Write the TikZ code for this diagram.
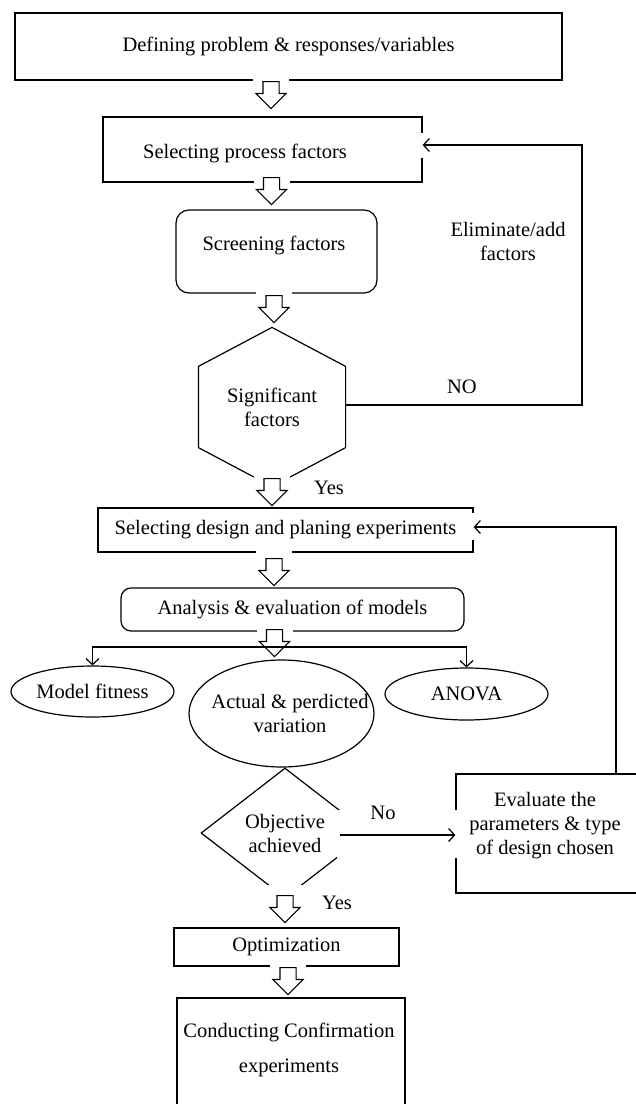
\documentclass[tikz,border=0pt]{standalone}
\usepackage{fontspec}
\setmainfont{Liberation Serif}
\usetikzlibrary{shapes.geometric,shapes.arrows,arrows.meta,positioning}
\tikzset{
    box/.style={draw, rectangle, inner sep=0pt, align=center},
    roundbox/.style={box, rounded corners=6.5pt},
    oval/.style={draw, ellipse, inner sep=0pt, align=center},
    decision/.style={draw, diamond, aspect=1.3, inner sep=0pt, align=center},
    flow/.style={-{Straight Barb[length=3pt,width=6.5pt]}},
    blockarrow/.style={
        single arrow, draw, fill=white,
        shape border rotate=270,
        minimum height=13.5pt, minimum width=14.5pt,
        inner sep=3.75pt, single arrow head extend=3.5pt
    },
    hollow/.pic={
        % white patch behind the arrow, as in the scanned chart
        \fill[white] (-18,-10) rectangle (18,6);
        \node[blockarrow, anchor=tail] (-arr) at (0,0) {};
    }
}

\begin{document}
\begin{tikzpicture}[x=0.5pt, y=-0.5pt, line width=0.6pt,
    every node/.style={font=\fontsize{10.25}{12}\selectfont}]
    \useasboundingbox (0,0) rectangle (636,1104);
    \clip (0,0) rectangle (636,1104);

    % main stages
    \node[box, minimum width=273.5pt, minimum height=33.5pt] (defprob) at (288.5,46.5) {Defining problem \& responses/variables};
    \node[box, minimum width=159.5pt, minimum height=32.5pt] (selfac) at (262.5,149.5) {};
    \node[anchor=center] (selfactxt) at (245,153) {Selecting process factors};
    \node[roundbox, minimum width=100.5pt, minimum height=41.5pt] (screen) at (276.5,251.5) {};
    \node (screentxt) at (274,245) {Screening factors};

    % hexagon: text node, outline from its anchors
    \node[minimum width=73pt, minimum height=79pt, inner sep=0pt, align=center] (sigfac) at (272,407) {Significant\\factors};
    \draw (sigfac.north) -- ([yshift=-19.5pt]sigfac.north east) -- ([yshift=19.5pt]sigfac.south east)
        -- (sigfac.south) -- ([yshift=19.5pt]sigfac.south west) -- ([yshift=-19.5pt]sigfac.north west) -- cycle;

    \node[box, minimum width=187.5pt, minimum height=22pt] (seldes) at (285.5,530) {Selecting design and planing experiments};
    \node[box, rounded corners=5pt, minimum width=171.5pt, minimum height=21.5pt] (analys) at (292.5,609.5) {Analysis \& evaluation of models};

    % model checks
    \node[oval, minimum width=81.5pt, minimum height=25.5pt] (modfit) at (92.5,691.5) {Model fitness};
    \node[oval, minimum width=92.5pt, minimum height=53.5pt,
        label={[align=center, xshift=4.25pt]center:Actual \& perdicted\\variation}] (actpred) at (281.5,713.5) {};
    \node[oval, minimum width=81.5pt, minimum height=26pt] (anova) at (466.5,694) {ANOVA};

    \node[decision, minimum width=84pt, minimum height=65pt] (objach) at (285,833) {Objective\\achieved};
    \node[box, minimum width=110pt, minimum height=59.5pt] (evalpar) at (566,833.5) {};
    \node[align=center] (evaltxt) at (545,826) {Evaluate the\\parameters \& type\\of design chosen};

    \node[box, minimum width=112.5pt, minimum height=19pt] (optim) at (286.5,947) {Optimization};
    \node[box, minimum width=114pt, minimum height=56pt] (confirm) at (291,1054) {};
    \node[align=center] (confirmtxt) at (289,1050) {Conducting Confirmation\\[5.5pt]experiments};

    % hollow block arrows between the stages
    \pic (a1) at (271,81) {hollow};
    \pic (a2) at (271.5,177) {hollow};
    \pic (a3) at (274,295) {hollow};
    \pic (a4) at (272,478) {hollow};
    \pic (a5) at (274,558) {hollow};
    \pic (a6) at (274.5,629) {hollow};
    \pic (a7) at (285,895) {hollow};
    \pic (a8) at (288,967) {hollow};

    % branch to the three checks
    \coordinate (split) at (275,647);
    \draw[flow] (split) -| (modfit.north);
    \draw[flow] (split) -| (anova.north);

    % loop back: eliminate/add factors
    \coordinate (nocorner) at (582,405);
    \fill[white] ([xshift=-1.5pt,yshift=8.25pt]selfac.east) rectangle ([xshift=1.5pt,yshift=-4.25pt]selfac.east);
    \draw[flow] (sigfac.east |- nocorner) -- (nocorner) |- ([yshift=2.25pt]selfac.east);
    \node[align=center] (elimadd) at (508,241.5) {Eliminate/add\\factors};
    \node (nolbl) at (462,387) {NO};
    \node (yeslbl) at (329,488) {Yes};

    % loop back: evaluate design
    \fill[white] (337,810) rectangle (462,858);
    \draw[flow] ([xshift=-15pt,yshift=-1pt]objach.east) -- ([yshift=-0.75pt]evalpar.west);
    \fill[white] ([xshift=-1.5pt,yshift=8.5pt]seldes.east) rectangle ([xshift=1.5pt,yshift=-5pt]seldes.east);
    \draw[flow] ([xshift=25pt]evalpar.north) |- ([yshift=1.5pt]seldes.east);
    \node (nolbltwo) at (383,813) {No};
    \node (yeslbltwo) at (337,903) {Yes};
\end{tikzpicture}
\end{document}
